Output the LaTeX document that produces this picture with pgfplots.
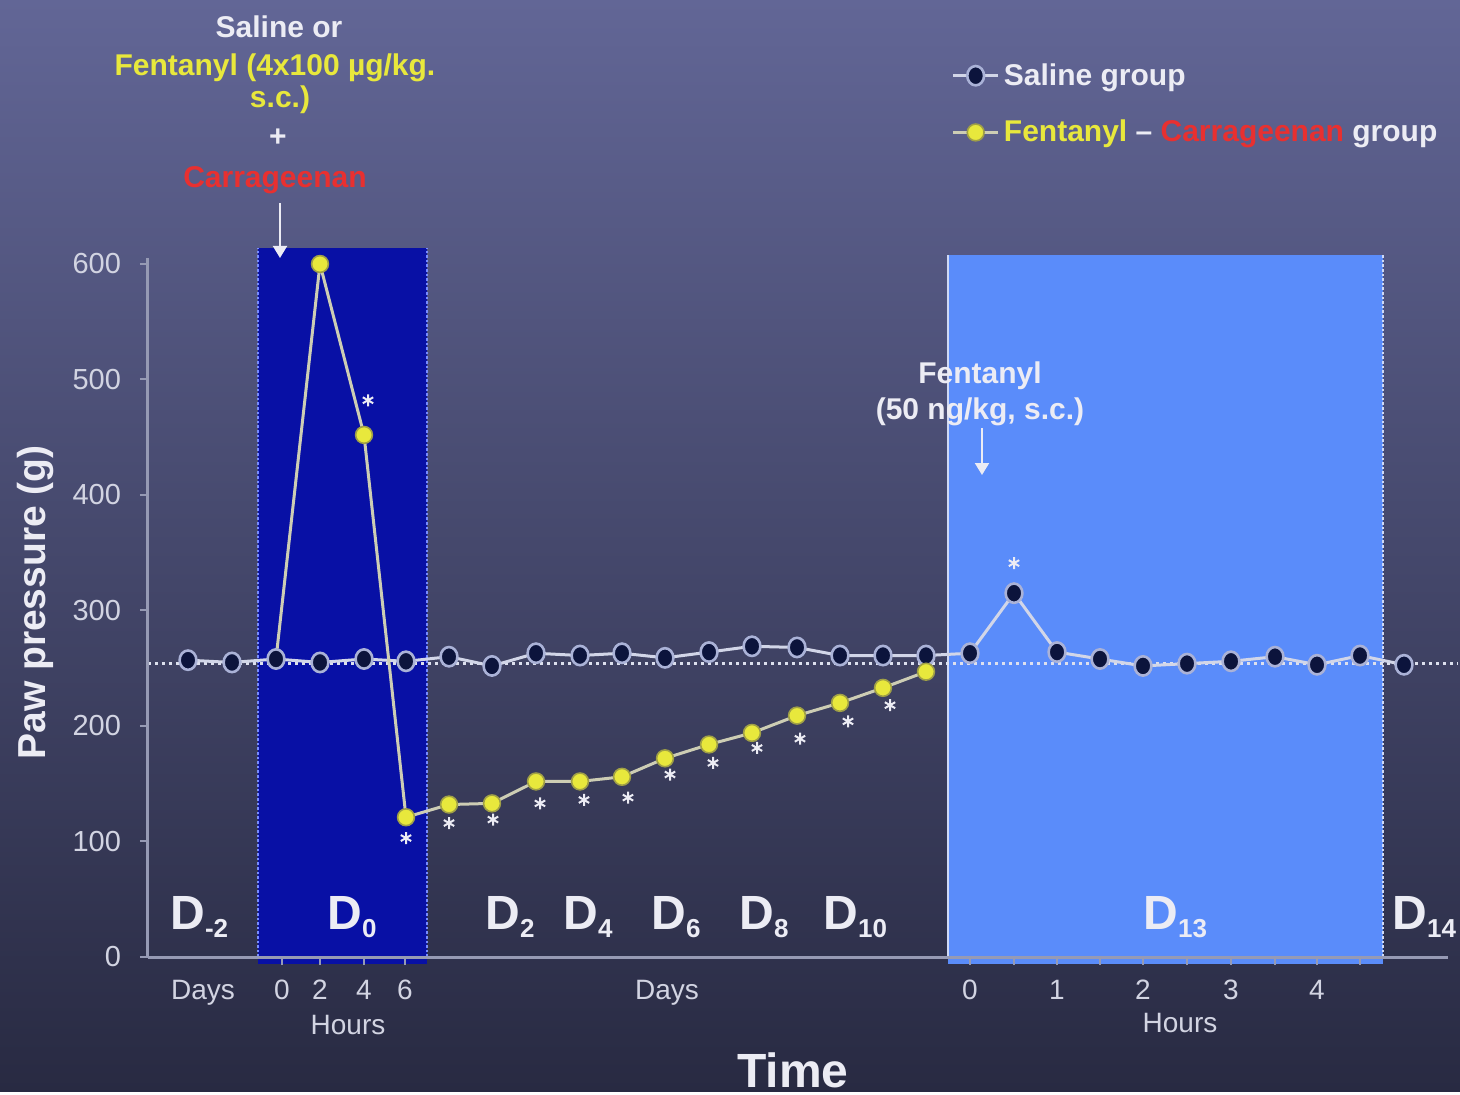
\documentclass[border=0pt]{standalone}
\usepackage{pgfplots}
\pgfplotsset{compat=1.18}
\usepackage{fontspec}
\setmainfont{Liberation Sans}
\usetikzlibrary{arrows.meta}

\definecolor{bgtop}{RGB}{98,102,150}
\definecolor{bgbot}{RGB}{40,42,66}
\definecolor{dayblue}{RGB}{8,16,165}
\definecolor{dayedge}{RGB}{120,140,255}
\definecolor{hourblue}{RGB}{90,140,250}
\definecolor{navymark}{RGB}{12,20,60}
\definecolor{ringgray}{RGB}{170,178,215}
\definecolor{salineline}{RGB}{210,214,232}
\definecolor{fentyellow}{RGB}{232,232,60}
\definecolor{fentedge}{RGB}{160,160,70}
\definecolor{fentline}{RGB}{205,205,180}
\definecolor{carred}{RGB}{232,48,48}
\definecolor{softwhite}{RGB}{236,236,244}
\definecolor{labelgray}{RGB}{210,212,226}
\definecolor{axisgray}{RGB}{150,154,180}

\newcommand\annfont{\bfseries\fontsize{15}{18}\selectfont}
\newcommand\dayfont{\bfseries\fontsize{24}{26}\selectfont}
\newcommand\unitfont{\fontsize{14}{16}\selectfont}
\newcommand\Dlab[1]{D\raisebox{-4pt}{\fontsize{13}{13}\selectfont #1}}

\begin{document}
\begin{tikzpicture}
\begin{axis}[
  x=0.5pt, y=0.5775pt,
  xmin=148, xmax=1448, ymin=0, ymax=605,
  axis lines*=left,
  clip=false,
  axis on top,
  axis line style={axisgray, line width=1.5pt},
  ytick={0,100,...,600},
  xtick={282,320,364,405,970,1014,1057,1100,1143,1187,1231,1275,1317,1360},
  xticklabels={0,2,4,6,0,,1,,2,,3,,4,},
  tick align=outside,
  major tick length=4pt,
  tick style={axisgray, line width=1pt},
  /pgf/number format/assume math mode=true,
  yticklabel style={font=\fontsize{14.5}{14.5}\selectfont, text=labelgray, xshift=-6pt},
  xticklabel style={font=\unitfont, text=labelgray, yshift=-4pt},
  legend style={at={(axis cs:945,781)}, anchor=north west, draw=none, fill=none,
    font=\annfont, text=softwhite, row sep=12pt},
  legend cell align=left,
  legend image code/.code={
    \draw[mark repeat=2, mark phase=2, #1] plot coordinates {(0cm,0cm) (0.4cm,0cm) (0.8cm,0cm)};
  },
]
% slide background
\fill[top color=bgtop, bottom color=bgbot] (axis cs:0,-116.88) rectangle (axis cs:1460,828.57);

% day-0 hourly window and day-13 hourly window
\fill[dayblue] (axis cs:258,-6) rectangle (axis cs:427,614);
\draw[densely dotted, line width=1.3pt, dayedge] (axis cs:258,0) -- (axis cs:258,614);
\draw[densely dotted, line width=1.3pt, dayedge] (axis cs:427,0) -- (axis cs:427,614);
\fill[hourblue] (axis cs:948,-6) rectangle (axis cs:1383,608);
\draw[line width=1pt, softwhite!80!hourblue] (axis cs:948,0) -- (axis cs:948,608);
\draw[densely dotted, line width=1.3pt, softwhite!80!hourblue] (axis cs:1383,0) -- (axis cs:1383,608);

% baseline reference
\draw[dotted, line width=1.5pt, salineline!75] (axis cs:148,254) -- (axis cs:1458,254);

% Saline group
\addplot[salineline, line width=1.5pt, mark=*, mark size=4.2pt,
  mark options={fill=navymark, draw=ringgray, line width=1.3pt, yscale=1.15}] coordinates {
  (188,257) (232,255) (276,258) (320,255) (364,258) (406,256)
  (449,260) (492,252) (536,263) (580,261) (622,263) (665,259)
  (709,264) (752,269) (797,268) (840,261) (883,261) (926,261)
  (970,263) (1014,315) (1057,264) (1100,258) (1143,252) (1187,254)
  (1231,256) (1275,260) (1317,253) (1360,261) (1404,253)
};
\addlegendentry{Saline group}

% Fentanyl - Carrageenan group
\addplot[fentline, line width=1.5pt, mark=*, mark size=4.2pt, mark phase=2,
  mark options={fill=fentyellow, draw=fentedge, line width=0.8pt}] coordinates {
  (276,258) (320,600) (364,452) (406,121) (449,132) (492,133)
  (536,152) (580,152) (622,156) (665,172) (709,184) (752,194)
  (797,209) (840,220) (883,233) (926,247)
};
\addlegendentry{\textcolor{fentyellow}{Fentanyl} – \textcolor{carred}{Carrageenan} group}

% significance markers
\addplot[forget plot, only marks, mark=asterisk, mark size=3pt, softwhite, line width=1pt] coordinates {
  (368,482) (406,103) (449,116) (493,119) (540,133) (584,136)
  (628,138) (670,158) (713,168) (757,181) (800,189) (848,204)
  (890,218) (1014,341)
};

% axis titles
\node[rotate=90, text=softwhite, font=\bfseries\fontsize{19.5}{22}\selectfont] at (axis cs:36,307) {Paw pressure (g)};
\node[text=softwhite, font=\bfseries\fontsize{24}{26}\selectfont] at (axis cs:793,-97.8) {Time};

% day labels
\begin{scope}[every node/.style={text=softwhite, font=\dayfont, anchor=base west, inner sep=0pt}]
\node at (axis cs:170,23.4) {\Dlab{-2}};
\node at (axis cs:327,23.4) {\Dlab{0}};
\node at (axis cs:485,23.4) {\Dlab{2}};
\node at (axis cs:563,23.4) {\Dlab{4}};
\node at (axis cs:651,23.4) {\Dlab{6}};
\node at (axis cs:739,23.4) {\Dlab{8}};
\node at (axis cs:823,23.4) {\Dlab{10}};
\node at (axis cs:1143,23.4) {\Dlab{13}};
\node at (axis cs:1392,23.4) {\Dlab{14}};
\end{scope}

% unit labels below the axis
\begin{scope}[every node/.style={text=labelgray, font=\unitfont}]
\node at (axis cs:203,-31.2) {Days};
\node at (axis cs:667,-31.2) {Days};
\node at (axis cs:348,-58.9) {Hours};
\node at (axis cs:1180,-57.1) {Hours};
\end{scope}

% treatment annotations
\node[text=softwhite, font=\annfont] at (axis cs:279,805.2) {Saline or};
\node[text=fentyellow, font=\annfont] at (axis cs:275,769.7) {Fentanyl (4x100 µg/kg.};
\node[text=fentyellow, font=\annfont] at (axis cs:280,742.0) {s.c.)};
\node[text=softwhite, font=\annfont] at (axis cs:278,709.1) {+};
\node[text=carred, font=\annfont] at (axis cs:275,672.7) {Carrageenan};
\draw[-{Triangle[width=7pt,length=6pt]}, line width=1pt, softwhite] (axis cs:280,652.8) -- (axis cs:280,605.2);

\node[text=softwhite, font=\annfont] at (axis cs:980,503.0) {Fentanyl};
\node[text=softwhite, font=\annfont] at (axis cs:980,471.9) {(50 ng/kg, s.c.)};
\draw[-{Triangle[width=7pt,length=6pt]}, line width=1pt, softwhite] (axis cs:982,458.0) -- (axis cs:982,417.3);
\end{axis}
\end{tikzpicture}
\end{document}
